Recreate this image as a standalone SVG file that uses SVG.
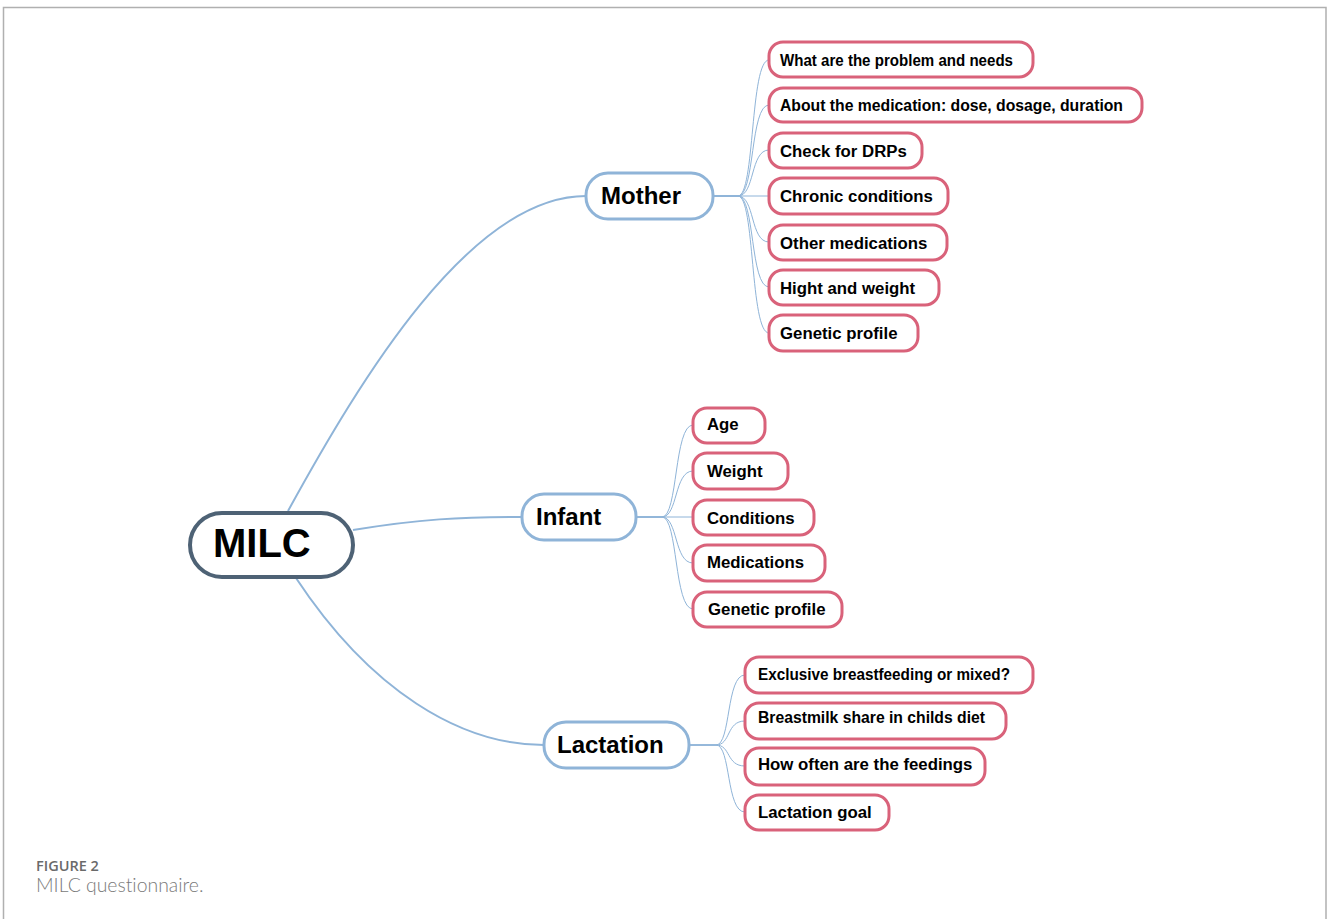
<svg xmlns="http://www.w3.org/2000/svg" width="1328" height="919" viewBox="0 0 1328 919">
<style>
.frame{fill:none;stroke:#b0b0b0;stroke-width:1.5}
.con{fill:none;stroke:#8fb4d8;stroke-width:2}
.sub{fill:none;stroke:#8fb4d8;stroke-width:1}
.root rect{fill:#fff;stroke:#4e6275;stroke-width:4}
.main rect{fill:#fff;stroke:#8fb4d8;stroke-width:3}
.leaf rect{fill:#fff;stroke:#d9627a;stroke-width:3}
text{font-family:"Liberation Sans",Arial,sans-serif;font-weight:bold;fill:#000}
.root text{font-size:40px}
.main text{font-size:24px}
.leaf text{font-size:16.8px}
.cap1{font-family:"Open Sans","Lato",sans-serif;font-size:14.5px;font-weight:600;fill:#6a6a6a}
.cap2{font-family:"Lato","Open Sans",sans-serif;font-size:19.4px;font-weight:300;fill:#7a7a7a;font-variant-ligatures:none}
</style>
<rect x="0" y="0" width="1328" height="919" fill="#fff"/>
<path class="frame" d="M3.5,925 V7.5 H1326 V925"/>

<g id="connectors">
<path class="con" d="M288,511 C360,380 470,196 586,196"/>
<path class="con" d="M353,530 C420,519 460,517 522,517"/>
<path class="con" d="M296,578 C370,690 460,745 544,745"/>

<path class="sub" d="M713,196 H738 C755,196 750,60 769,60"/>
<path class="sub" d="M713,196 H738 C755,196 750,105 769,105"/>
<path class="sub" d="M713,196 H738 C755,196 750,150 769,150"/>
<path class="sub" d="M713,196 H769"/>
<path class="sub" d="M713,196 H738 C755,196 750,242 769,242"/>
<path class="sub" d="M713,196 H738 C755,196 750,287 769,287"/>
<path class="sub" d="M713,196 H738 C755,196 750,333 769,333"/>

<path class="sub" d="M636,517 H662 C678,517 674,425 693,425"/>
<path class="sub" d="M636,517 H662 C678,517 674,471 693,471"/>
<path class="sub" d="M636,517 H693"/>
<path class="sub" d="M636,517 H662 C678,517 674,563 693,563"/>
<path class="sub" d="M636,517 H662 C678,517 674,609 693,609"/>

<path class="sub" d="M689,745 H716 C731,745 726,675 745,675"/>
<path class="sub" d="M689,745 H716 C731,745 726,721 745,721"/>
<path class="sub" d="M689,745 H716 C731,745 726,766 745,766"/>
<path class="sub" d="M689,745 H716 C731,745 726,812 745,812"/>
</g>

<g id="milc" class="root"><rect x="190" y="513" width="163" height="64" rx="32"/><text x="213" y="557">MILC</text></g>

<g id="mother" class="main"><rect x="586" y="173" width="127" height="46" rx="22"/><text x="601" y="204">Mother</text></g>
<g id="infant" class="main"><rect x="522" y="494" width="114" height="46" rx="22"/><text x="536" y="525">Infant</text></g>
<g id="lactation" class="main"><rect x="544" y="722" width="145" height="46" rx="22"/><text x="557" y="753">Lactation</text></g>

<g id="m1" class="leaf"><rect x="769" y="42" width="264" height="35" rx="14"/><text x="780" y="66" textLength="233" lengthAdjust="spacingAndGlyphs">What are the problem and needs</text></g>
<g id="m2" class="leaf"><rect x="769" y="88" width="373" height="34" rx="14"/><text x="780" y="111" textLength="343" lengthAdjust="spacingAndGlyphs">About the medication: dose, dosage, duration</text></g>
<g id="m3" class="leaf"><rect x="769" y="133" width="153" height="35" rx="14"/><text x="780" y="157">Check for DRPs</text></g>
<g id="m4" class="leaf"><rect x="769" y="178" width="179" height="36" rx="14"/><text x="780" y="202">Chronic conditions</text></g>
<g id="m5" class="leaf"><rect x="769" y="225" width="178" height="35" rx="14"/><text x="780" y="249">Other medications</text></g>
<g id="m6" class="leaf"><rect x="769" y="270" width="170" height="35" rx="14"/><text x="780" y="294">Hight and weight</text></g>
<g id="m7" class="leaf"><rect x="769" y="315" width="149" height="36" rx="14"/><text x="780" y="339">Genetic profile</text></g>

<g id="i1" class="leaf"><rect x="693" y="408" width="72" height="35" rx="14"/><text x="707" y="430">Age</text></g>
<g id="i2" class="leaf"><rect x="693" y="453" width="95" height="36" rx="14"/><text x="707" y="477">Weight</text></g>
<g id="i3" class="leaf"><rect x="693" y="500" width="121" height="35" rx="14"/><text x="707" y="524">Conditions</text></g>
<g id="i4" class="leaf"><rect x="693" y="545" width="132" height="36" rx="14"/><text x="707" y="568">Medications</text></g>
<g id="i5" class="leaf"><rect x="693" y="592" width="149" height="35" rx="14"/><text x="708" y="615">Genetic profile</text></g>

<g id="l1" class="leaf"><rect x="745" y="657" width="288" height="36" rx="14"/><text x="758" y="680" textLength="252" lengthAdjust="spacingAndGlyphs">Exclusive breastfeeding or mixed?</text></g>
<g id="l2" class="leaf"><rect x="745" y="703" width="261" height="36" rx="14"/><text x="758" y="723" textLength="227" lengthAdjust="spacingAndGlyphs">Breastmilk share in childs diet</text></g>
<g id="l3" class="leaf"><rect x="745" y="748" width="240" height="37" rx="14"/><text x="758" y="770">How often are the feedings</text></g>
<g id="l4" class="leaf"><rect x="745" y="795" width="144" height="35" rx="14"/><text x="758" y="818">Lactation goal</text></g>

<text class="cap1" x="36" y="871">FIGURE 2</text>
<text class="cap2" x="36" y="892">MILC questionnaire.</text>
</svg>
